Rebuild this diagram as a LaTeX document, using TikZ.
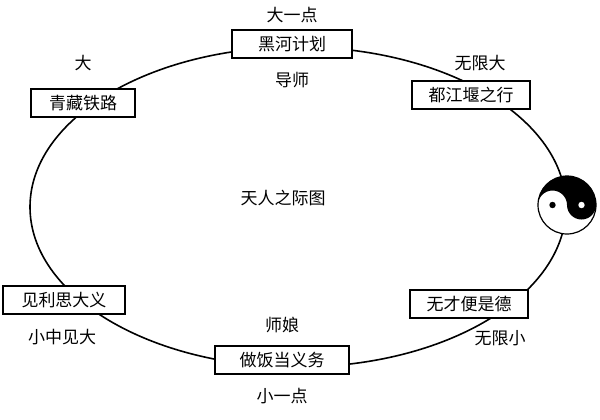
\documentclass[tikz,border=0pt]{standalone}
\usepackage{fontspec}
\newfontfamily\cjk{Noto Sans CJK SC}
\begin{document}
\begin{tikzpicture}[x=0.5pt,y=-0.5pt,
  box/.style={draw,thick,fill=white,inner sep=0pt,minimum height=14pt,font=\cjk\fontsize{8.5}{10}\selectfont},
  lab/.style={font=\cjk\fontsize{8.5}{10}\selectfont,inner sep=0pt}]
\useasboundingbox (0,0) rectangle (600,419);
\draw[thick] (298,207) ellipse [x radius=268, y radius=-160];
\node[box,minimum width=60pt] (a) at (292,44) {黑河计划};
\node[box,minimum width=52pt] (b) at (83,103) {青藏铁路};
\node[box,minimum width=59pt] (c) at (471,95) {都江堰之行};
\node[box,minimum width=61pt] (d) at (64,300) {见利思大义};
\node[box,minimum width=59pt] (e) at (469,304) {无才便是德};
\node[box,minimum width=67pt] (f) at (282,360) {做饭当义务};
\node[lab] (a1) at (292,15) {大一点};
\node[lab] (a2) at (292,80) {导师};
\node[lab] (b1) at (83,63) {大};
\node[lab] (c1) at (480,63) {无限大};
\node[lab] (d1) at (62,337) {小中见大};
\node[lab] (e1) at (500,338) {无限小};
\node[lab] (f1) at (282,325) {师娘};
\node[lab] (f2) at (282,396) {小一点};
\node[lab] (t) at (283,198) {天人之际图};
\begin{scope}[shift={(567,205)},x=1pt,y=1pt]
\coordinate (yy) at (0,0);
\fill[white] (0,0) circle (14.5pt);
\fill[black] (-14.5pt,0) arc[start angle=180,end angle=0,radius=14.5pt]
  arc[start angle=0,end angle=-180,radius=7.25pt]
  arc[start angle=0,end angle=180,radius=7.25pt] -- cycle;
\draw[line width=0.6pt] (0,0) circle (14.5pt);
\fill[white] (7.25pt,0) circle (1.6pt);
\fill[black] (-7.25pt,0) circle (1.6pt);
\end{scope}
\end{tikzpicture}
\end{document}
